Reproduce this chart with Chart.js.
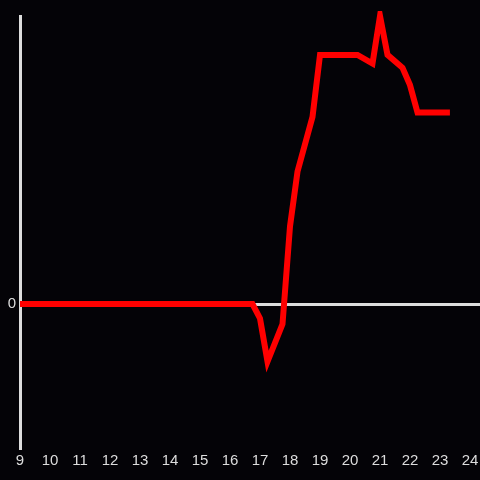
<!DOCTYPE html>
<html>
<head>
<meta charset="utf-8">
<script src="https://cdn.jsdelivr.net/npm/chart.js@4"></script>
<style>
  html, body { margin: 0; padding: 0; background: #040307; }
  #wrap { width: 480px; height: 480px; }
</style>
</head>
<body>
<div id="wrap"><canvas id="myChart"></canvas></div>
<script>
// hour of day and the matching values
const hours = [9, 16.75, 17.0, 17.25, 17.75, 18.0, 18.25, 18.75, 19.0, 20.25, 20.75, 21.0, 21.25, 21.75, 22.0, 22.25, 23.33];
const values = [0, 0, -5, -20, -7, 27, 46, 65, 86.5, 86.5, 83.5, 100, 86.5, 82, 76, 66.5, 66.5];
const xTicks = [9, 10, 11, 12, 13, 14, 15, 16, 17, 18, 19, 20, 21, 22, 23, 24];
const yTicks = [0];

const points = hours.map(function (h, i) {
    return { x: h, y: values[i] };
});

const ctx = document.getElementById('myChart').getContext('2d');
const myChart = new Chart(ctx, {
    type: 'line',
    data: {
        datasets: [{
            data: points,
            borderColor: '#ff0000',
            borderWidth: 6,
            pointRadius: 0,
            tension: 0,
            fill: false,
            clip: 5
        }]
    },
    options: {
        responsive: true,
        maintainAspectRatio: false,
        animation: false,
        layout: { padding: { top: 16, right: 0, left: 0, bottom: 0 } },
        plugins: { legend: { display: false }, tooltip: { enabled: false } },
        scales: {
            x: {
                type: 'linear',
                min: 9,
                max: 24.333,
                afterBuildTicks: function (scale) {
                    scale.ticks = xTicks.map(function (v) { return { value: v }; });
                },
                afterFit: function (scale) {
                    scale.height = 32;
                    scale.paddingRight = 0;
                    scale.paddingLeft = 0;
                },
                grid: { display: false, drawTicks: false },
                border: { display: false },
                ticks: {
                    color: '#dddddd',
                    padding: 4,
                    maxRotation: 0,
                    autoSkip: false,
                    font: { family: 'Liberation Sans', size: 15 }
                }
            },
            y: {
                type: 'linear',
                min: -50,
                max: 100,
                afterBuildTicks: function (scale) {
                    scale.ticks = yTicks.map(function (v) { return { value: v }; });
                },
                afterFit: function (scale) { scale.width = 20; },
                grid: {
                    drawTicks: false,
                    lineWidth: 3,
                    color: function (c) { return c.tick && c.tick.value === 0 ? '#dddddd' : 'rgba(0,0,0,0)'; }
                },
                border: { display: true, color: '#dddddd', width: 3 },
                ticks: {
                    color: '#dddddd',
                    padding: 4,
                    font: { family: 'Liberation Sans', size: 15 }
                }
            }
        }
    }
});
</script>
</body>
</html>
